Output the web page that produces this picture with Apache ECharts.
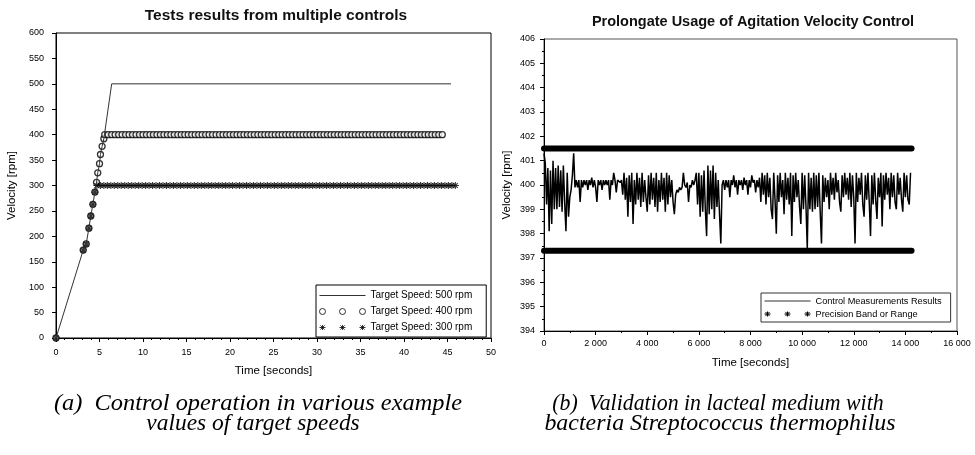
<!DOCTYPE html>
<html><head><meta charset="utf-8">
<script src="https://cdn.jsdelivr.net/npm/echarts@6/dist/echarts.min.js"></script>
<style>html,body{margin:0;padding:0;background:#fff}#c{width:975px;height:455px}</style>
</head><body><div id="c"></div><script>
// ---------- Left chart data ----------
const t500 = [0, 3.13, 3.47, 3.78, 4.0, 4.24, 4.47, 4.66, 4.8, 5.0, 5.11, 5.3, 5.5, 6.4, 45.4];
const v500 = [0, 173, 185, 216, 240, 263, 287, 306, 325, 343, 361, 377, 392, 500, 500];

const ramp400T = [0, 3.13, 3.47, 3.78, 4.0, 4.24, 4.47, 4.66, 4.8, 5.0, 5.11, 5.3, 5.5];
const ramp400V = [0, 173, 185, 216, 240, 263, 287, 306, 325, 343, 361, 377, 392];
const level400 = 400;
const flat400T = [5.6,6.0,6.4,6.8,7.2,7.6,8.0,8.4,8.8,9.2,9.6,10.0,10.4,10.8,11.2,11.6,12.0,12.4,12.8,13.2,13.6,14.0,14.4,14.8,15.2,15.6,16.0,16.4,16.8,17.2,17.6,18.0,18.4,18.8,19.2,19.6,20.0,20.4,20.8,21.2,21.6,22.0,22.4,22.8,23.2,23.6,24.0,24.4,24.8,25.2,25.6,26.0,26.4,26.8,27.2,27.6,28.0,28.4,28.8,29.2,29.6,30.0,30.4,30.8,31.2,31.6,32.0,32.4,32.8,33.2,33.6,34.0,34.4,34.8,35.2,35.6,36.0,36.4,36.8,37.2,37.6,38.0,38.4,38.8,39.2,39.6,40.0,40.4,40.8,41.2,41.6,42.0,42.4,42.8,43.2,43.6,44.0,44.4];

const ramp300T = [0, 3.13, 3.47, 3.78, 4.0, 4.24, 4.47];
const ramp300V = [0, 173, 185, 216, 240, 263, 287];
const level300 = 300;
const flat300T = [4.7,5.1,5.5,5.9,6.3,6.7,7.1,7.5,7.9,8.3,8.7,9.1,9.5,9.9,10.3,10.7,11.1,11.5,11.9,12.3,12.7,13.1,13.5,13.9,14.3,14.7,15.1,15.5,15.9,16.3,16.7,17.1,17.5,17.9,18.3,18.7,19.1,19.5,19.9,20.3,20.7,21.1,21.5,21.9,22.3,22.7,23.1,23.5,23.9,24.3,24.7,25.1,25.5,25.9,26.3,26.7,27.1,27.5,27.9,28.3,28.7,29.1,29.5,29.9,30.3,30.7,31.1,31.5,31.9,32.3,32.7,33.1,33.5,33.9,34.3,34.7,35.1,35.5,35.9,36.3,36.7,37.1,37.5,37.9,38.3,38.7,39.1,39.5,39.9,40.3,40.7,41.1,41.5,41.9,42.3,42.7,43.1,43.5,43.9,44.3,44.7,45.1,45.5,45.9];

// ---------- Right chart data ----------
const ctrlStep = 50; // seconds between samples
const ctrlValues = [
401.3,400.9,399.2,400.7,398.1,400.6,398.4,401.0,399.0,400.7,399.0,400.8,399.1,400.6,398.9,400.8,399.3,398.1,400.5,398.7,399.5,399.8,400.4,401.3,399.9,
400.2,399.9,400.2,399.3,400.2,399.9,400.2,400.0,400.2,399.8,400.2,400.0,400.3,399.9,400.2,399.9,399.3,400.2,400.0,400.2,399.8,400.2,400.0,400.2,400.0,400.2,399.4,400.2,400.0,400.5,400.2,399.7,400.2,400.2,400.1,
400.2,399.6,400.5,399.4,400.3,398.7,400.4,399.3,400.5,398.4,400.2,399.2,400.5,399.4,400.3,399.1,400.5,399.3,400.2,399.5,398.9,400.4,399.2,400.5,399.4,400.3,399.1,400.5,398.9,400.2,399.3,400.5,399.4,400.3,398.9,400.5,399.2,400.4,399.5,400.2,399.3,398.8,
399.6,399.8,399.7,399.9,399.8,399.9,400.5,400.0,399.9,400.1,399.3,400.0,399.9,400.2,400.0,400.2,
400.5,399.2,400.5,398.7,400.4,398.9,400.6,399.0,397.9,400.8,398.8,400.6,399.0,400.8,398.6,400.5,399.1,400.2,398.8,397.6,
400.0,400.2,399.8,400.2,399.9,400.2,399.5,400.2,400.0,400.4,399.9,400.2,399.6,400.2,400.0,400.2,399.8,400.3,400.0,400.2,399.6,400.2,399.9,400.4,400.1,400.2,399.7,400.2,399.9,400.3,
399.3,400.5,399.6,400.4,399.2,400.5,399.5,400.3,399.0,398.6,400.5,399.4,398.0,400.4,399.3,400.5,399.5,400.2,398.8,400.5,399.4,400.3,399.2,400.5,397.9,400.4,399.3,400.5,399.5,400.2,399.1,398.4,
400.5,399.0,400.4,399.1,397.4,400.5,399.0,400.3,398.9,400.5,399.0,400.4,399.1,400.5,398.9,397.6,400.4,399.3,400.3,399.5,400.2,399.0,400.5,399.6,400.3,399.4,400.5,399.7,400.2,399.3,398.9,400.4,
399.5,400.5,399.6,400.3,399.4,400.5,399.1,400.4,399.5,397.6,400.5,399.3,400.3,399.6,400.5,399.2,398.7,400.4,399.4,400.5,399.3,397.9,400.4,399.2,400.5,399.4,398.6,400.3,399.5,400.5,398.3,400.4,
399.4,400.5,399.6,400.3,399.0,400.5,399.5,400.4,399.3,399.0,400.5,399.6,400.3,399.4,398.9,400.5,399.5,400.4,399.4,399.2,400.5
];
const bandUpper = 401.5;
const bandLower = 397.3;
const bandEnd = 14240;

// ---------- Tick settings ----------
const leftX = {min: 0, max: 50, interval: 5};
const leftY = {min: 0, max: 600, interval: 50};
const rightX = {min: 0, max: 16000, interval: 2000};
const rightY = {min: 394, max: 406, interval: 1};

const FONT = 'Liberation Sans';
const zip = (a, b) => a.map((x, i) => [x, b[i]]);
const starPath = 'path://M4,0 L4,8 M0,4 L8,4 M1.2,1.2 L6.8,6.8 M1.2,6.8 L6.8,1.2';
const threeStars = 'path://' + [0, 20, 40].map(o => `M${o+3},0.5 L${o+3},5.5 M${o},3 L${o+6},3 M${o+0.9},0.9 L${o+5.1},5.1 M${o+0.9},5.1 L${o+5.1},0.9`).join(' ') + ' M0,0 M46,6';
const threeCircles = 'path://' + [0, 20, 40].map(o => `M${o},3 A3,3 0 1,1 ${o+6},3 A3,3 0 1,1 ${o},3 Z`).join(' ') + ' M0,0 M46,6';
const lineIcon = 'path://M0,0 M46,6 M0,2.5 L46,2.5 L46,3.5 L0,3.5 Z';

const data400 = zip(ramp400T, ramp400V).concat(flat400T.map(t => [t, level400]));
const data300 = zip(ramp300T, ramp300V).concat(flat300T.map(t => [t, level300]));
const ctrlData = ctrlValues.map((v, i) => [i * ctrlStep, v]);

const axisCommon = {
  axisLine: {show: true, onZero: false, lineStyle: {color: '#000', width: 1}},
  axisTick: {show: true, inside: false, length: 4, lineStyle: {color: '#000'}},
  splitLine: {show: false},
  axisLabel: {color: '#000', fontSize: 9, fontFamily: FONT},
  nameLocation: 'middle',
  nameTextStyle: {color: '#000', fontSize: 11.5, fontFamily: FONT}
};

const capFont = 'italic 23px "Liberation Serif"';
const chart = echarts.init(document.getElementById('c'), null, {renderer: 'canvas'});
chart.setOption({
  animation: false,
  backgroundColor: '#fff',
  title: [
    {text: 'Tests results from multiple controls', left: 271, top: 3, textAlign: 'center',
     textStyle: {fontSize: 15.5, fontWeight: 'bold', color: '#111', fontFamily: FONT}},
    {text: 'Prolongate Usage of Agitation Velocity Control', left: 748, top: 9, textAlign: 'center',
     textStyle: {fontSize: 14.5, fontWeight: 'bold', color: '#111', fontFamily: FONT}}
  ],
  grid: [
    {left: 56, top: 33, width: 435, height: 305, show: true, borderColor: '#000', borderWidth: 1, backgroundColor: 'transparent'},
    {left: 544, top: 39, width: 413, height: 292, show: true, borderColor: '#555', borderWidth: 1, backgroundColor: 'transparent'}
  ],
  xAxis: [
    Object.assign({}, axisCommon, {type: 'value', gridIndex: 0, ...leftX, name: 'Time [seconds]', nameGap: 27,
      minorTick: {show: true, splitNumber: 5, length: 2, lineStyle: {color: '#000'}},
      axisLabel: Object.assign({}, axisCommon.axisLabel, {margin: 10})}),
    Object.assign({}, axisCommon, {type: 'value', gridIndex: 1, ...rightX, name: 'Time [seconds]', nameGap: 26,
      minorTick: {show: true, splitNumber: 2, length: 2, lineStyle: {color: '#000'}},
      axisLabel: Object.assign({}, axisCommon.axisLabel, {margin: 8, formatter: v => String(v).replace(/\B(?=(\d{3})+(?!\d))/g, ' ')})})
  ],
  yAxis: [
    Object.assign({}, axisCommon, {type: 'value', gridIndex: 0, ...leftY, name: 'Velocity [rpm]', nameGap: 38,
      axisLabel: Object.assign({}, axisCommon.axisLabel, {margin: 12})}),
    Object.assign({}, axisCommon, {type: 'value', gridIndex: 1, ...rightY, name: 'Velocity [rpm]', nameGap: 31,
      minorTick: {show: true, splitNumber: 2, length: 2, lineStyle: {color: '#000'}},
      axisLabel: Object.assign({}, axisCommon.axisLabel, {margin: 9})})
  ],
  legend: [
    {orient: 'vertical', left: 316, top: 285, itemWidth: 46, itemHeight: 6, itemGap: 5,
     padding: [5, 14, 4, 3], borderColor: '#000', borderWidth: 1, backgroundColor: '#fff',
     textStyle: {fontSize: 10, lineHeight: 11, color: '#000', fontFamily: FONT},
     data: [
       {name: 'Target Speed: 500 rpm', icon: lineIcon, itemStyle: {color: '#333', borderWidth: 0}},
       {name: 'Target Speed: 400 rpm', icon: threeCircles, itemStyle: {color: '#fff', borderColor: '#000', borderWidth: 1}},
       {name: 'Target Speed: 300 rpm', icon: threeStars, itemStyle: {color: '#000', borderColor: '#000', borderWidth: 1}}
     ]},
    {orient: 'vertical', left: 761, top: 293, itemWidth: 46, itemHeight: 6, itemGap: 3,
     padding: [3, 9, 3, 3], borderColor: '#333', borderWidth: 1, backgroundColor: '#fff',
     textStyle: {fontSize: 9.2, lineHeight: 10, color: '#000', fontFamily: FONT},
     data: [
       {name: 'Control Measurements Results', icon: lineIcon, itemStyle: {color: '#333', borderWidth: 0}},
       {name: 'Precision Band or Range', icon: threeStars, itemStyle: {color: '#000', borderColor: '#000', borderWidth: 1}}
     ]}
  ],
  series: [
    {name: 'Target Speed: 500 rpm', type: 'line', xAxisIndex: 0, yAxisIndex: 0, data: zip(t500, v500),
     symbol: 'none', lineStyle: {color: '#333', width: 1}, itemStyle: {color: '#333'}, z: 4},
    {name: 'Target Speed: 400 rpm', type: 'scatter', xAxisIndex: 0, yAxisIndex: 0, data: data400,
     symbol: 'circle', symbolSize: 6, itemStyle: {color: '#fff', borderColor: '#000', borderWidth: 1.3}, z: 3},
    {name: 'Target Speed: 300 rpm', type: 'scatter', xAxisIndex: 0, yAxisIndex: 0, data: data300,
     symbol: starPath, symbolSize: 7, itemStyle: {color: '#000', borderColor: '#000', borderWidth: 1.1}, z: 3},
    {name: 'Control Measurements Results', type: 'line', xAxisIndex: 1, yAxisIndex: 1, data: ctrlData,
     symbol: 'none', lineStyle: {color: '#000', width: 1.5}, itemStyle: {color: '#000'}},
    {name: 'Precision Band or Range', type: 'line', xAxisIndex: 1, yAxisIndex: 1, data: [[0, bandUpper], [bandEnd, bandUpper]],
     symbol: 'none', lineStyle: {color: '#000', width: 6, cap: 'round'}, itemStyle: {color: '#000'}},
    {name: 'Precision Band or Range', type: 'line', xAxisIndex: 1, yAxisIndex: 1, data: [[0, bandLower], [bandEnd, bandLower]],
     symbol: 'none', lineStyle: {color: '#000', width: 6, cap: 'round'}, itemStyle: {color: '#000'}}
  ],
  graphic: [
    {type: 'text', x: 258, y: 404, scaleX: 1.06, style: {text: '(a)  Control operation in various example', fill: '#000',
      font: capFont, align: 'center', verticalAlign: 'middle'}},
    {type: 'text', x: 253, y: 424, scaleX: 1.02, style: {text: 'values of target speeds', fill: '#000',
      font: capFont, align: 'center', verticalAlign: 'middle'}},
    {type: 'text', x: 718, y: 404, scaleX: 0.95, style: {text: '(b)  Validation in lacteal medium with', fill: '#000',
      font: capFont, align: 'center', verticalAlign: 'middle'}},
    {type: 'text', x: 720, y: 424, scaleX: 1.04, style: {text: 'bacteria Streptococcus thermophilus', fill: '#000',
      font: capFont, align: 'center', verticalAlign: 'middle'}}
  ]
});
</script></body></html>
